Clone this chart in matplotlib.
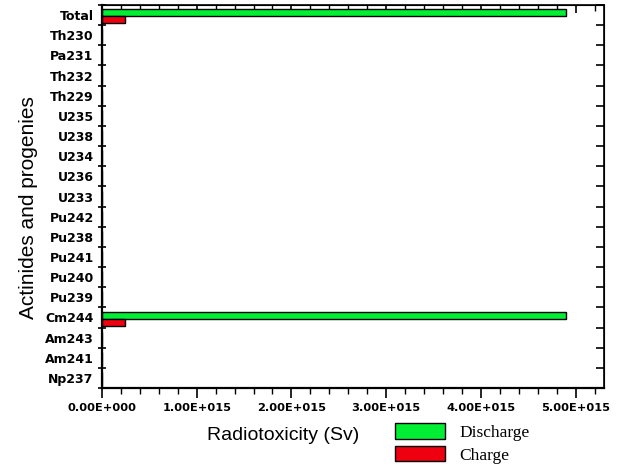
import matplotlib
matplotlib.use("Agg")
import matplotlib.pyplot as plt
from matplotlib.ticker import MultipleLocator, FixedLocator, NullFormatter
from matplotlib.patches import Patch
import numpy as np

# Nuclides, listed bottom to top
nuclides = ["Np237", "Am241", "Am243", "Cm244", "Pu239", "Pu240", "Pu241",
            "Pu238", "Pu242", "U233", "U236", "U234", "U238", "U235",
            "Th229", "Th232", "Pa231", "Th230", "Total"]

# Radiotoxicity (Sv)
discharge = [0, 0, 0, 4.9e15, 0, 0, 0, 0, 0, 0, 0, 0, 0, 0, 0, 0, 0, 0, 4.9e15]
charge = [0, 0, 0, 0.24e15, 0, 0, 0, 0, 0, 0, 0, 0, 0, 0, 0, 0, 0, 0, 0.24e15]

x_ticks = [0, 1e15, 2e15, 3e15, 4e15, 5e15]
x_tick_labels = ["0.00E+000", "1.00E+015", "2.00E+015", "3.00E+015",
                 "4.00E+015", "5.00E+015"]

green = "#00EE33"
red = "#EE0011"

fig = plt.figure(figsize=(6.22, 4.70), dpi=100)
ax = fig.add_axes([102 / 622, 1 - 388 / 470, 502 / 622, 383 / 470])

y = np.arange(len(nuclides))
h = 0.35
ax.barh(y + 0.12, discharge, height=h, color=green, edgecolor="black", linewidth=1)
ax.barh(y - 0.23, charge, height=h, color=red, edgecolor="black", linewidth=1)

xmax = 5.3e15
ax.set_xlim(0, xmax)
ax.set_ylim(-0.5, len(nuclides) - 0.5)

bounds = np.arange(-0.5, len(nuclides), 1.0)

# bottom axis: labelled, ticks pointing out
ax.set_xticks(x_ticks)
ax.set_xticklabels(x_tick_labels, fontsize=8.2, fontweight="bold")
ax.xaxis.set_minor_locator(MultipleLocator(0.2e15))
ax.tick_params(axis="x", which="major", direction="out", length=7, width=1.2, pad=4)
ax.tick_params(axis="x", which="minor", direction="out", length=4, width=1)

# left axis: labels centred on rows, ticks on row boundaries
ax.set_yticks(y)
ax.set_yticklabels(nuclides, fontsize=9, fontweight="bold")
ax.yaxis.set_minor_locator(FixedLocator(bounds))
ax.tick_params(axis="y", which="major", length=0, pad=6)
ax.tick_params(axis="y", which="minor", direction="inout", length=6, width=1.2)

# top and right: inward ticks without labels
top = ax.secondary_xaxis("top")
top.set_xticks(x_ticks)
top.xaxis.set_minor_locator(MultipleLocator(0.2e15))
top.xaxis.set_major_formatter(NullFormatter())
top.tick_params(which="major", direction="in", length=6, width=1.2)
top.tick_params(which="minor", direction="in", length=4, width=1)
top.spines["top"].set_linewidth(1.2)

right = ax.secondary_yaxis("right")
right.set_yticks(bounds)
right.yaxis.set_major_formatter(NullFormatter())
right.tick_params(which="major", direction="in", length=6, width=1.2)
right.spines["right"].set_linewidth(1.2)

for side in ["left", "bottom"]:
    ax.spines[side].set_linewidth(1.6)

fig.text(283 / 622, 1 - 435 / 470, "Radiotoxicity (Sv)", fontsize=14,
         ha="center", va="center", family="Liberation Sans")
fig.text(29 / 622, 1 - 208 / 470, "Actinides and progenies", fontsize=15,
         ha="center", va="center", rotation=90, family="Liberation Sans")

handles = [Patch(facecolor=green, edgecolor="black", linewidth=1),
           Patch(facecolor=red, edgecolor="black", linewidth=1)]
fig.legend(handles, ["Discharge", "Charge"], loc="upper left",
           bbox_to_anchor=(395 / 622, 1 - 423 / 470), frameon=False,
           prop={"family": "Liberation Serif", "size": 12.5},
           handlelength=2.9, handleheight=1.0, handletextpad=0.8,
           labelspacing=0.3, borderpad=0, borderaxespad=0)

fig.savefig("out.png", dpi=100)
